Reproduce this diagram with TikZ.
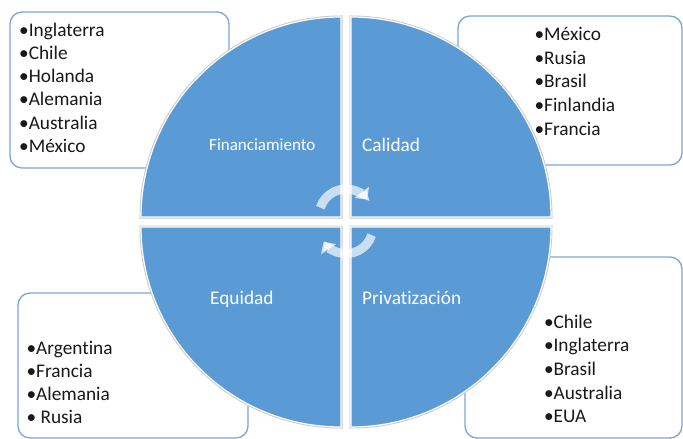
\documentclass[tikz,border=0pt]{standalone}
\usepackage{fontspec}
\setmainfont{Carlito}[Ligatures=NoCommon]
\usetikzlibrary{arrows.meta}
\definecolor{qblue}{RGB}{91,155,213}
\definecolor{boxline}{RGB}{125,165,215}
\begin{document}
\begin{tikzpicture}[x=1pt,y=-1pt,
  listbox/.style={draw=boxline, line width=1.3pt, fill=white, rounded corners=12pt},
  quad/.style={fill=qblue, draw=white, line width=1.2pt, preaction={draw=black!22, line width=3pt}},
  item/.style={anchor=base west, inner sep=0pt, font=\fontsize{19.3}{23}\selectfont, text=black!90},
  qlabel/.style={anchor=base west, inner sep=0pt, text=white, font=\fontsize{19.3}{23}\selectfont},
  cyc/.style={line width=9pt, draw=white, opacity=0.68, -{Triangle[width=18pt,length=9pt]}}]
\useasboundingbox (0,0) rectangle (683,439);

% list boxes (behind the circle)
\draw[listbox] (10,12) rectangle (229,168);
\draw[listbox] (458,16) rectangle (682,165);
\draw[listbox] (18,293) rectangle (248,438);
\draw[listbox] (465,257) rectangle (682,438);

% quadrants
\path[quad] (341,217) -- (141,217) arc[start angle=180, end angle=270, radius=200] -- cycle;
\path[quad] (351,217) -- (351,17) arc[start angle=270, end angle=360, radius=200] -- cycle;
\path[quad] (351,227) -- (551,227) arc[start angle=0, end angle=90, radius=200] -- cycle;
\path[quad] (341,227) -- (341,427) arc[start angle=90, end angle=180, radius=200] -- cycle;

% cycle arrows
\draw[cyc] (346,216) ++(198:27) arc[start angle=198, end angle=322, radius=27];
\draw[cyc] (346,226.7) ++(18:27) arc[start angle=18, end angle=146, radius=27];

% quadrant labels
\node[qlabel, font=\fontsize{17}{20}\selectfont] (fin) at (209,150) {Financiamiento};
\node[qlabel] (cal) at (362,151.7) {Calidad};
\node[qlabel] (equ) at (210,304) {Equidad};
\node[qlabel] (pri) at (362,304) {Privatización};

% lists
\foreach \t [count=\i from 0] in {Inglaterra,Chile,Holanda,Alemania,Australia,México}
  \node[item] (tl-\i) at (19,36+23.3*\i) {•\t};
\foreach \t [count=\i from 0] in {México,Rusia,Brasil,Finlandia,Francia}
  \node[item] (tr-\i) at (534.4,40.7+23.6*\i) {•\t};
\foreach \t [count=\i from 0] in {Argentina,Francia,Alemania}
  \node[item] (bl-\i) at (26.4,354+23.3*\i) {•\t};
\node[item] (bl-3) at (26.4,354+23.3*3) {• Rusia};
\foreach \t [count=\i from 0] in {Chile,Inglaterra,Brasil,Australia,EUA}
  \node[item] (br-\i) at (543.8,328.3+23.6*\i) {•\t};
\end{tikzpicture}
\end{document}
